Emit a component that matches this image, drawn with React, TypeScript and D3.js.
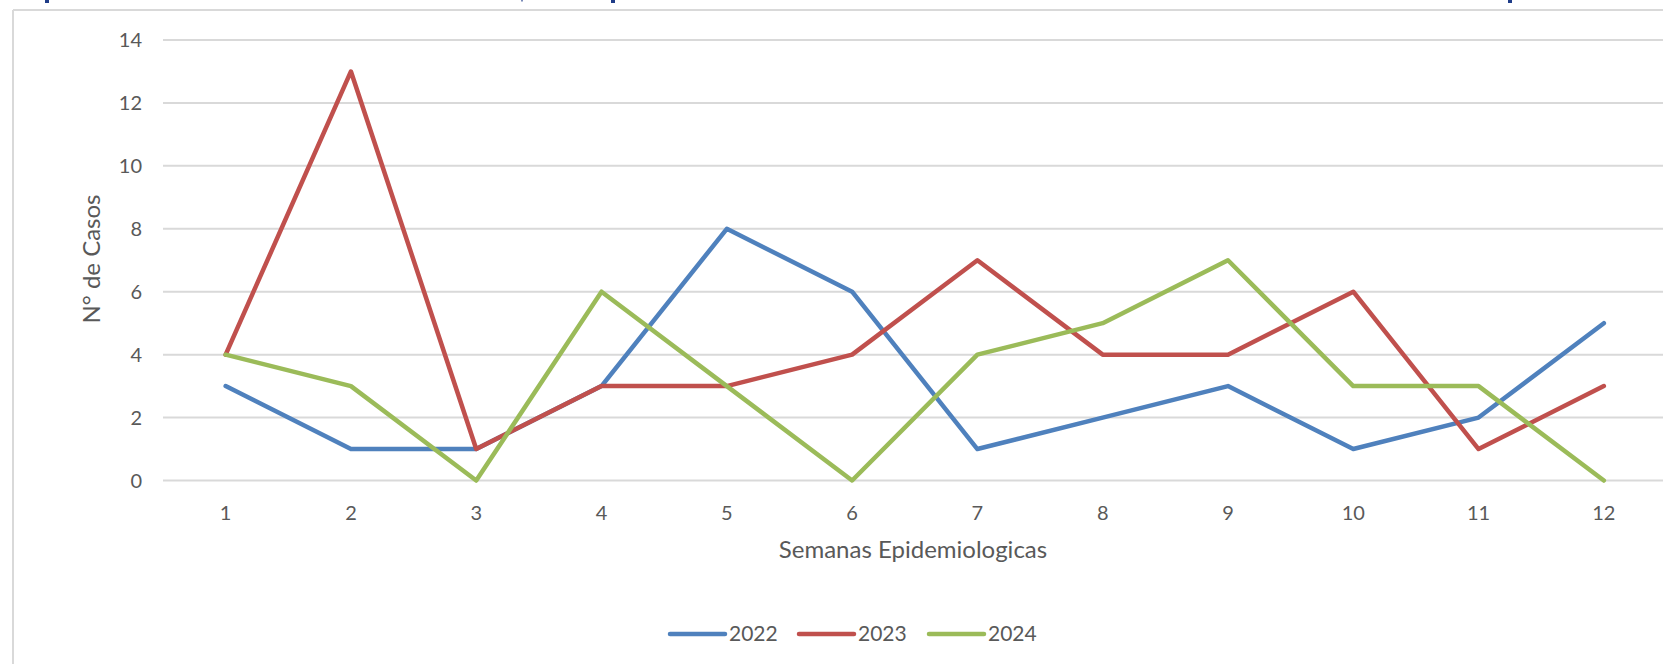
import { useMemo } from "react";
import * as d3 from "d3";

const weeks = [1, 2, 3, 4, 5, 6, 7, 8, 9, 10, 11, 12];
const cases2022 = [3, 1, 1, 3, 8, 6, 1, 2, 3, 1, 2, 5];
const cases2023 = [4, 13, 1, 3, 3, 4, 7, 4, 4, 6, 1, 3];
const cases2024 = [4, 3, 0, 6, 3, 0, 4, 5, 7, 3, 3, 0];
const yTicks = [0, 2, 4, 6, 8, 10, 12, 14];
const seriesNames = ["2022", "2023", "2024"];
const seriesColors = ["#4F81BD", "#C0504D", "#9BBB59"];

const W = 1663;
const H = 664;
const FONT = "Lato, 'Open Sans', sans-serif";
const TEXT = "#595959";

export default function App() {
  const series = useMemo(
    () =>
      [cases2022, cases2023, cases2024].map((vals, i) => ({
        name: seriesNames[i],
        color: seriesColors[i],
        points: weeks.map((w, j) => ({ week: w, value: vals[j] })),
      })),
    [],
  );

  const xScale = d3
    .scaleBand<number>()
    .domain(weeks)
    .range([163, 1666.5]);
  const yScale = d3.scaleLinear().domain([0, 14]).range([480.5, 40]);

  const lineGen = d3
    .line<{ week: number; value: number }>()
    .x((d) => (xScale(d.week) ?? 0) + xScale.bandwidth() / 2)
    .y((d) => yScale(d.value));

  // legend layout
  const legendX = [670, 799, 929];

  return (
    <div style={{ position: "fixed", left: 0, top: 0 }}>
      <svg width={W} height={H} style={{ display: "block", background: "#fff" }}>
        {/* fragments of the clipped title above */}
        {[45, 611, 1508].map((x) => (
          <rect key={x} x={x} y={0} width={4} height={3} fill="#1F3C88" />
        ))}
        <rect x={521} y={0} width={2} height={1.5} fill="#1F3C88" opacity={0.6} />

        {/* chart frame */}
        <line x1={13} x2={W} y1={10} y2={10} stroke="#D9D9D9" strokeWidth={2} />
        <line x1={13} x2={13} y1={10} y2={H} stroke="#D9D9D9" strokeWidth={2} />

        {/* gridlines + y ticks */}
        {yTicks.map((t) => (
          <g key={t}>
            <line
              x1={163}
              x2={W}
              y1={yScale(t)}
              y2={yScale(t)}
              stroke="#D9D9D9"
              strokeWidth={2}
            />
            <text
              x={142}
              y={yScale(t)}
              dy="0.35em"
              textAnchor="end"
              fontFamily={FONT}
              fontSize={20}
              fill={TEXT}
            >
              {t}
            </text>
          </g>
        ))}

        {/* x tick labels */}
        {weeks.map((w) => (
          <text
            key={w}
            x={(xScale(w) ?? 0) + xScale.bandwidth() / 2}
            y={513}
            dy="0.35em"
            textAnchor="middle"
            fontFamily={FONT}
            fontSize={20}
            fill={TEXT}
          >
            {w}
          </text>
        ))}

        {/* axis titles */}
        <text
          x={913}
          y={550}
          dy="0.35em"
          textAnchor="middle"
          fontFamily={FONT}
          fontSize={24}
          fill={TEXT}
        >
          Semanas Epidemiologicas
        </text>
        <text
          transform="translate(92,259) rotate(-90)"
          dy="0.35em"
          textAnchor="middle"
          fontFamily={FONT}
          fontSize={24}
          fill={TEXT}
        >
          N° de Casos
        </text>

        {/* series lines */}
        {series.map((s) => (
          <path
            key={s.name}
            d={lineGen(s.points) ?? ""}
            fill="none"
            stroke={s.color}
            strokeWidth={4.5}
            strokeLinejoin="round"
            strokeLinecap="round"
          />
        ))}

        {/* legend */}
        {series.map((s, i) => (
          <g key={s.name} transform={`translate(${legendX[i]},634)`}>
            <line x1={0} x2={55} y1={0} y2={0} stroke={s.color} strokeWidth={4.5} strokeLinecap="round" />
            <text x={59} y={0} dy="0.35em" fontFamily={FONT} fontSize={21} fill={TEXT}>
              {s.name}
            </text>
          </g>
        ))}
      </svg>
    </div>
  );
}
